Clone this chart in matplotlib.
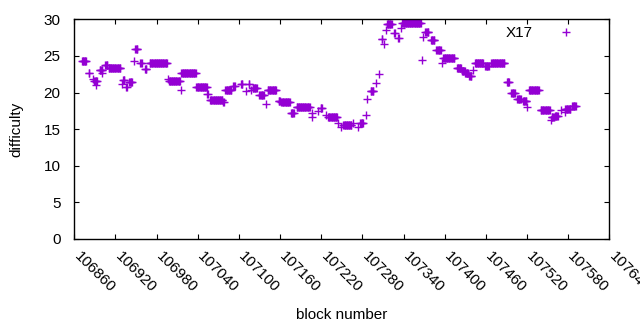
import numpy as np
import matplotlib
matplotlib.use("Agg")
import matplotlib.pyplot as plt
from matplotlib.transforms import ScaledTranslation

# Runs of constant difficulty: first block, last block, value
run_start = [106871, 106881, 106887, 106889, 106891, 106897, 106900, 106905, 106910, 106929,
             106931, 106936, 106940, 106947, 106949, 106956, 106963, 106970, 106997, 106998,
             107015, 107016, 107038, 107054, 107058, 107077, 107080, 107092, 107103, 107110,
             107114, 107117, 107120, 107130, 107139, 107142, 107158, 107162, 107176, 107184,
             107206, 107207, 107216, 107219, 107227, 107230, 107245, 107249, 107252, 107267,
             107273, 107277, 107285, 107287, 107292, 107300, 107304, 107308, 107312, 107314,
             107316, 107326, 107332, 107336, 107338, 107367, 107368, 107372, 107380, 107388,
             107396, 107398, 107418, 107425, 107430, 107436, 107442, 107444, 107459, 107468,
             107491, 107497, 107506, 107514, 107520, 107523, 107540, 107555, 107556, 107561,
             107570, 107575, 107576, 107586]
run_end = [106877, 106882, 106887, 106893, 106891, 106901, 106900, 106908, 106927, 106929,
           106933, 106937, 106944, 106947, 106952, 106958, 106965, 106995, 106997, 107014,
           107015, 107037, 107053, 107055, 107076, 107078, 107089, 107094, 107105, 107110,
           107115, 107117, 107126, 107136, 107139, 107154, 107160, 107174, 107180, 107203,
           107206, 107207, 107216, 107221, 107227, 107243, 107245, 107249, 107264, 107267,
           107273, 107281, 107285, 107287, 107296, 107300, 107304, 107309, 107312, 107314,
           107323, 107327, 107333, 107336, 107365, 107367, 107368, 107376, 107385, 107394,
           107396, 107414, 107424, 107429, 107434, 107439, 107442, 107456, 107464, 107487,
           107494, 107502, 107511, 107519, 107520, 107537, 107553, 107555, 107559, 107565,
           107570, 107575, 107583, 107591]
run_value = [24.3, 22.6, 21.9, 21.6, 21.0, 23.1, 22.6, 23.8, 23.3, 21.2,
             21.7, 20.7, 21.4, 24.3, 25.9, 24.0, 23.2, 24.1, 21.8, 21.6,
             20.4, 22.6, 20.7, 19.8, 19.0, 18.7, 20.4, 20.9, 21.2, 20.2,
             21.2, 20.3, 20.6, 19.7, 18.4, 20.4, 18.9, 18.7, 17.2, 18.0,
             17.2, 16.7, 17.5, 17.9, 17.0, 16.7, 15.8, 15.3, 15.6, 15.9,
             15.3, 15.9, 16.9, 19.1, 20.2, 21.3, 22.5, 27.3, 26.6, 28.5,
             29.3, 28.1, 27.4, 28.8, 29.5, 24.5, 27.6, 28.3, 27.2, 25.8,
             24.1, 24.7, 23.3, 23.0, 22.7, 22.3, 23.1, 24.1, 23.6, 24.1,
             21.4, 20.0, 19.1, 18.8, 18.0, 20.3, 17.6, 16.3, 16.6, 16.8,
             17.6, 17.3, 17.7, 18.2]

x_ticks = list(range(106860, 107641, 60))
y_ticks = [0, 5, 10, 15, 20, 25, 30]
series_name = "X17"

blocks = np.concatenate([np.arange(s, e + 1) for s, e in zip(run_start, run_end)])
values = np.concatenate([np.full(e - s + 1, v) for s, e, v in zip(run_start, run_end, run_value)])

plt.rcParams['font.family'] = ['Liberation Sans', 'DejaVu Sans']
FS = 11
fig = plt.figure(figsize=(6.4, 3.3), dpi=100)
ax = fig.add_axes([74.3 / 640, 1 - 239 / 330, (609.3 - 74.3) / 640, (239 - 19.3) / 330])

ax.plot(blocks, values, linestyle='none', marker='+', markersize=5.8,
        markeredgewidth=1.0, color='#9400d3', label=series_name)

ax.set_xlim(106860, 107640)
ax.set_ylim(0, 30)
ax.set_xticks(x_ticks)
ax.set_yticks(y_ticks)
ax.set_xticklabels([str(t) for t in x_ticks], rotation=-45, ha='left', va='top',
                   rotation_mode='anchor')
ax.tick_params(direction='in', top=True, right=True, length=3.6, width=0.8,
               labelsize=FS, colors='black')
ax.tick_params(axis='x', pad=6)
ax.tick_params(axis='y', pad=10)
off = ScaledTranslation(7 / 100, -2 / 100, fig.dpi_scale_trans)
for lab in ax.get_xticklabels():
    lab.set_transform(lab.get_transform() + off)
for s in ax.spines.values():
    s.set_linewidth(1.0)

ax.set_xlabel('block number', fontsize=FS)
ax.xaxis.set_label_coords(0.5, -(308 - 239) / 219.7)
ax.set_ylabel('difficulty', fontsize=FS)
ax.yaxis.set_label_coords((23 - 74.3) / 535, 0.5)

ax.legend(loc='upper right', bbox_to_anchor=(0.966, 0.996), frameon=False,
          markerfirst=False, numpoints=1, handlelength=2.5, handletextpad=0.95,
          fontsize=FS, borderaxespad=0)

fig.savefig('out.png', dpi=100)
